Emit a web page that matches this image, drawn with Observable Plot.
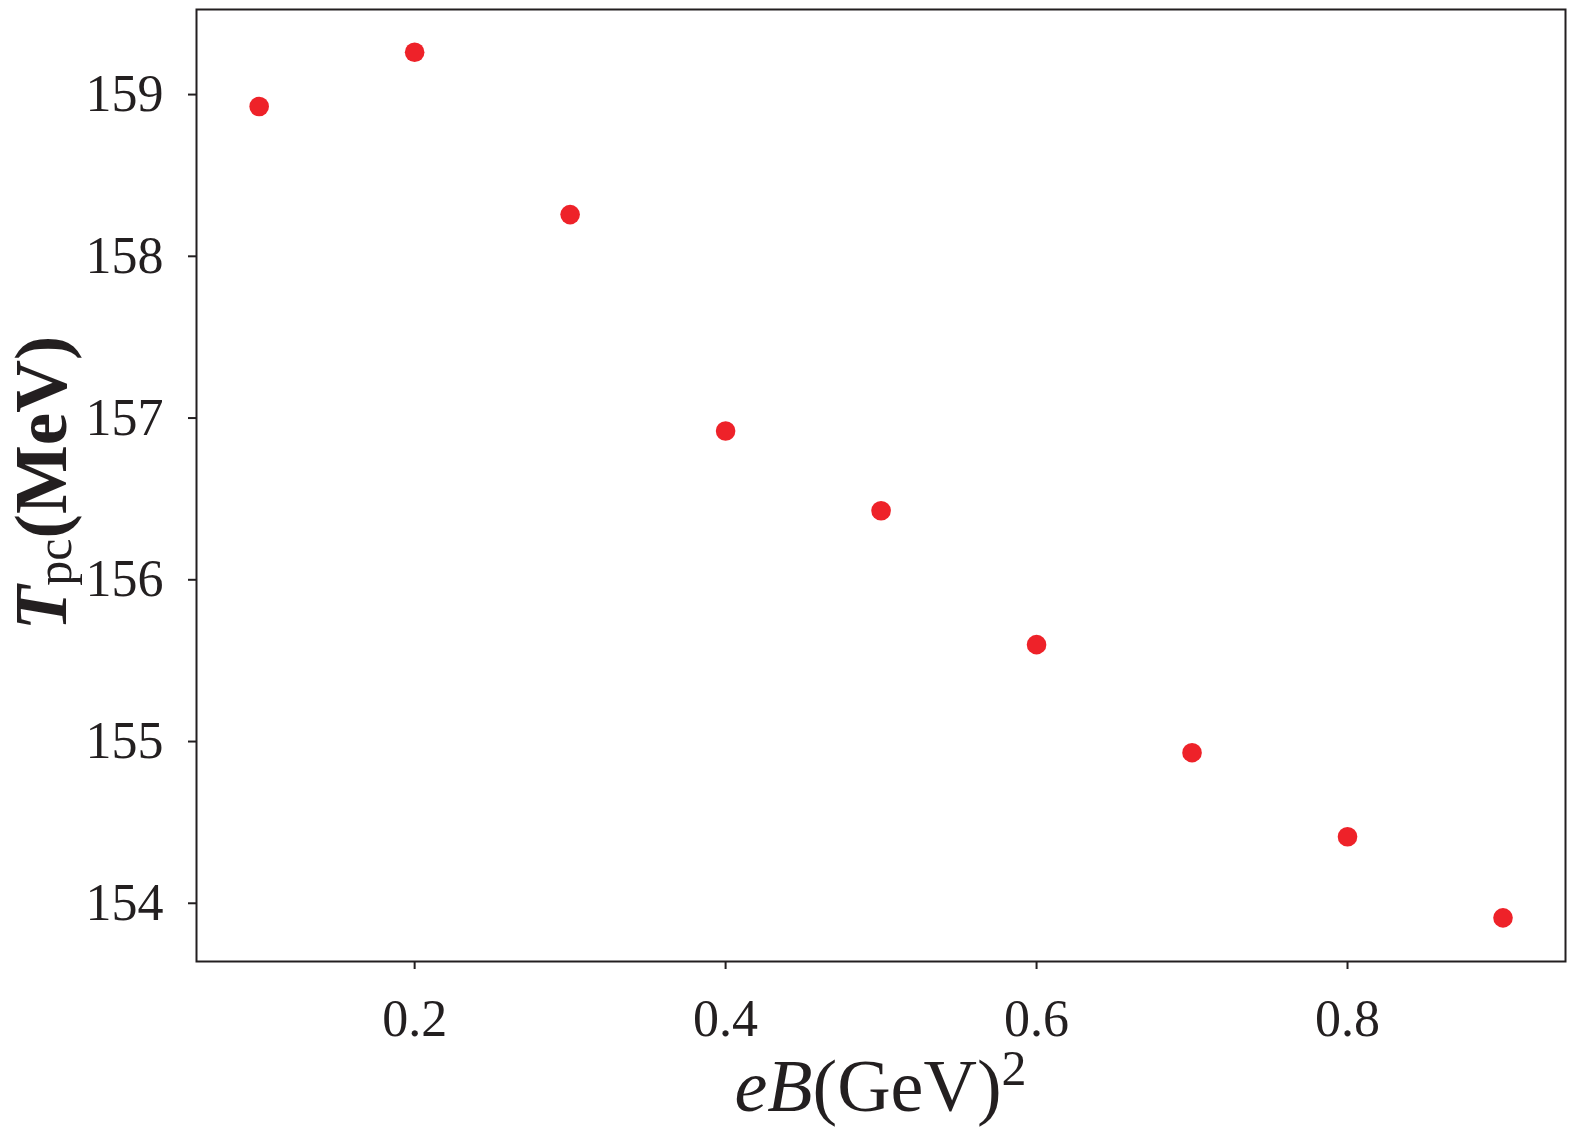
<!DOCTYPE html>
<html>
<head>
<meta charset="utf-8">
<script src="https://cdn.jsdelivr.net/npm/d3@7"></script>
<script src="https://cdn.jsdelivr.net/npm/@observablehq/plot@0.6"></script>
<style>
  html, body { margin: 0; padding: 0; background: #fff; }
  #chart { width: 1574px; height: 1130px; }
</style>
</head>
<body>
<div id="chart"></div>
<script>
const eB = [0.1, 0.2, 0.3, 0.4, 0.5, 0.6, 0.7, 0.8, 0.9];
const Tpc = [158.926, 159.262, 158.258, 156.920, 156.427, 155.599, 154.931, 154.411, 153.910];
const xTicks = [0.2, 0.4, 0.6, 0.8];
const yTicks = [154, 155, 156, 157, 158, 159];

const data = eB.map((x, i) => ({x, y: Tpc[i]}));

const W = 1574, H = 1130;
const mL = 196, mR = 9, mT = 9, mB = 169;
const ink = "#231f20";

const plot = Plot.plot({
  width: W,
  height: H,
  marginLeft: mL,
  marginRight: mR,
  marginTop: mT,
  marginBottom: mB,
  style: {fontFamily: "'Liberation Serif', 'Times New Roman', serif", fontSize: "52px", color: ink, background: "#fff"},
  x: {domain: [0.0597, 0.9402]},
  y: {domain: [153.64, 159.526]},
  marks: [
    Plot.axisX({ticks: xTicks, tickSize: 8, tickPadding: 30, strokeWidth: 2, tickFormat: d => d.toFixed(1), label: null}),
    Plot.axisY({ticks: yTicks, tickSize: 8, tickPadding: 25, strokeWidth: 2, tickFormat: d => String(d), label: null}),
    Plot.frame({stroke: ink, strokeWidth: 2}),
    Plot.dot(data, {x: "x", y: "y", r: 9.8, fill: "#ee2229", stroke: "none"})
  ]
});

document.getElementById("chart").appendChild(plot);

const svg = d3.select(plot);
const cx = (mL + (W - mR)) / 2;
const cy = (mT + (H - mB)) / 2;

// x-axis label: eB(GeV)^2
const xl = svg.append("text")
  .attr("x", cx)
  .attr("y", 1111)
  .attr("text-anchor", "middle")
  .attr("font-size", 74)
  .attr("fill", ink);
xl.append("tspan").attr("font-style", "italic").text("eB");
xl.append("tspan").text("(GeV)");
xl.append("tspan").attr("font-size", 50).attr("dy", -26).text("2");

// y-axis label: T_pc(MeV)
const yl = svg.append("text")
  .attr("transform", `translate(66,${cy - 2}) rotate(-90)`)
  .attr("text-anchor", "middle")
  .attr("font-size", 73)
  .attr("font-weight", "bold")
  .attr("fill", ink);
yl.append("tspan").attr("font-style", "italic").text("T");
yl.append("tspan").attr("font-size", 50).attr("font-weight", "normal").attr("dy", 5).text("pc");
yl.append("tspan").attr("dy", -5).text("(MeV)");
</script>
</body>
</html>
